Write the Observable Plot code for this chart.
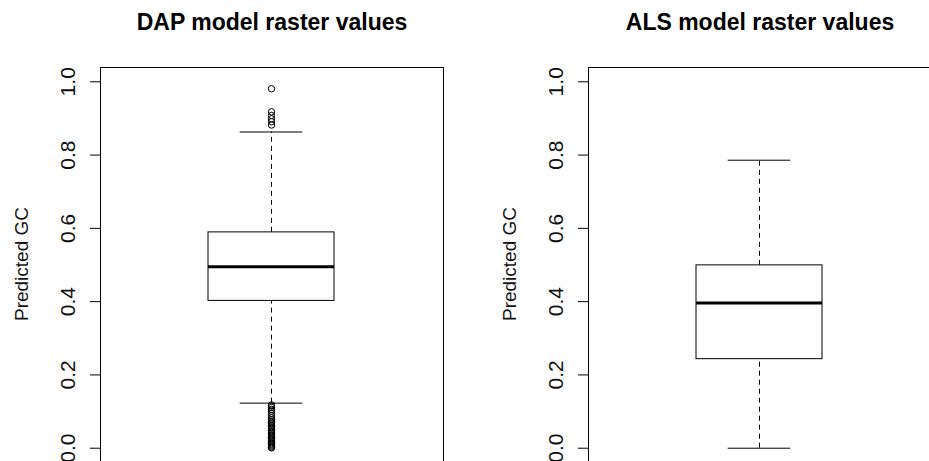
<!DOCTYPE html>
<html><head><meta charset="utf-8">
<script src="https://cdn.jsdelivr.net/npm/d3@7"></script>
<script src="https://cdn.jsdelivr.net/npm/@observablehq/plot@0.6"></script>
<style>
html,body{margin:0;padding:0;overflow:hidden;background:#fff;width:929px;height:461px}
#wrap{position:relative;width:929px;height:461px;overflow:hidden;background:#fff}
#wrap svg{position:absolute;top:0}
</style></head><body><div id="wrap"></div>
<script>
// ---- data ----
const panelNames = ["DAP", "ALS"];
const panelTitles = ["DAP model raster values", "ALS model raster values"];
const yLabel = "Predicted GC";
const yTicks = [0, 0.2, 0.4, 0.6, 0.8, 1.0];
const yTickLabels = ["0.0", "0.2", "0.4", "0.6", "0.8", "1.0"];
// [lower whisker, Q1, median, Q3, upper whisker]
const dapStats = [0.123, 0.402, 0.495, 0.589, 0.863];
const alsStats = [0.0, 0.243, 0.396, 0.499, 0.786];
const dapOutliers = [0.981, 0.918, 0.908, 0.899, 0.891, 0.882,
  0.118, 0.115, 0.111, 0.106, 0.101, 0.095, 0.089, 0.083, 0.078, 0.074, 0.070,
  0.066, 0.062, 0.058, 0.055, 0.051, 0.047, 0.044, 0.040, 0.036, 0.033, 0.029,
  0.026, 0.022, 0.019, 0.015, 0.012, 0.009, 0.006, 0.003, 0.001];
const alsOutliers = [];

const allStats = [dapStats, alsStats];
const allOutliers = [dapOutliers, alsOutliers];

const FONT = "'Liberation Sans', Arial, Helvetica, sans-serif";
const layout = [
  {left: 0, width: 464, marginLeft: 100, marginRight: 21},
  {left: 464, width: 467, marginLeft: 124, marginRight: 0}
];

const wrap = document.getElementById("wrap");
panelNames.forEach((name, i) => {
  const s = allStats[i];
  const box = [{name, lo: s[0], q1: s[1], med: s[2], q3: s[3], hi: s[4]}];
  const out = allOutliers[i].map(v => ({name, v}));
  const ticks = yTicks.map((v, k) => ({v, label: yTickLabels[k]}));
  const L = layout[i];
  const chart = Plot.plot({
    width: L.width,
    height: 467,
    marginLeft: L.marginLeft,
    marginRight: L.marginRight,
    marginTop: 67,
    marginBottom: 5,
    style: {fontFamily: FONT, background: "transparent", color: "black", overflow: "visible"},
    x: {type: "band", domain: [name], padding: 0.46, axis: null},
    y: {domain: [-0.039, 1.039], axis: null},
    marks: [
      Plot.ruleX(box, {x: "name", y1: "q3", y2: "hi", stroke: "black", strokeWidth: 1, strokeDasharray: "5,4"}),
      Plot.ruleX(box, {x: "name", y1: "lo", y2: "q1", stroke: "black", strokeWidth: 1, strokeDasharray: "5,4"}),
      Plot.tickY(box, {x: "name", y: "hi", stroke: "black", strokeWidth: 1, insetLeft: 31.7, insetRight: 31.7}),
      Plot.tickY(box, {x: "name", y: "lo", stroke: "black", strokeWidth: 1, insetLeft: 31.7, insetRight: 31.7}),
      Plot.barY(box, {x: "name", y1: "q1", y2: "q3", fill: "white", stroke: "black", strokeWidth: 1}),
      Plot.tickY(box, {x: "name", y: "med", stroke: "black", strokeWidth: 3}),
      Plot.dot(out, {x: "name", y: "v", r: 3.2, stroke: "black", fill: "none", strokeWidth: 1}),
      Plot.frame({stroke: "black", strokeWidth: 1}),
      Plot.axisY(yTicks, {tickSize: 10, tickFormat: () => "", label: null, stroke: "black"}),
      Plot.text(ticks, {y: "v", text: "label", frameAnchor: "left", dx: -26, rotate: -90,
        textAnchor: "middle", lineAnchor: "bottom", fontSize: 21, fill: "#111", ariaLabel: "ticklabels"}),
      Plot.text([yLabel], {frameAnchor: "left", dx: -73, dy: -1, rotate: -90, textAnchor: "middle",
        lineAnchor: "bottom", fontSize: 19, fill: "#111"}),
      Plot.text([panelTitles[i]], {frameAnchor: "top", dy: -37.7, textAnchor: "middle",
        lineAnchor: "bottom", fontSize: 23, fontWeight: "bold", fill: "black"})
    ]
  });
  chart.style.left = L.left + "px";
  // condense rotated tick labels along the reading direction, as in the reference
  chart.querySelectorAll('g[aria-label="ticklabels"] text').forEach(t => {
    const tr = t.getAttribute("transform") || "";
    t.setAttribute("transform", tr + " scale(0.76,1)");
  });
  wrap.appendChild(chart);
});
</script>
</body></html>
